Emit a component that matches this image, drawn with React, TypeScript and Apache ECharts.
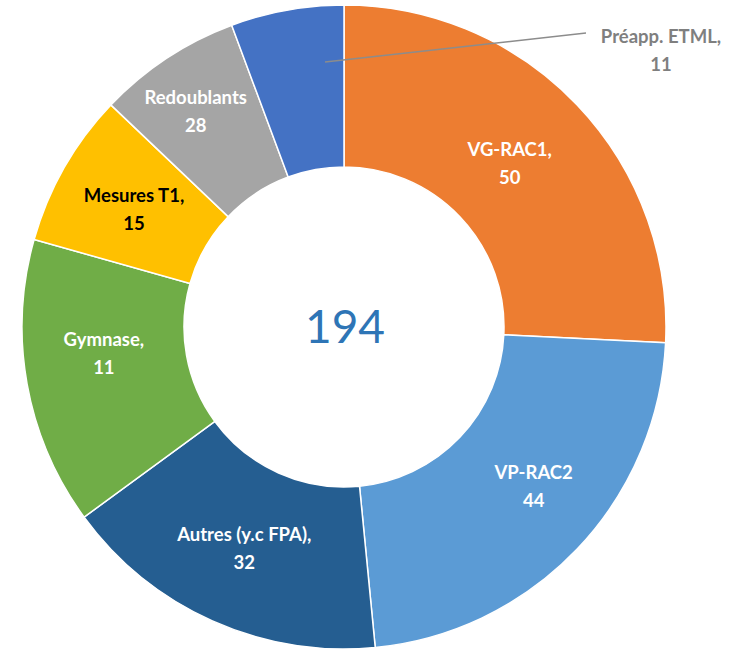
import React, { useEffect, useRef } from "react";
import * as echarts from "echarts";

const categories = ["VG-RAC1", "VP-RAC2", "Autres (y.c FPA)", "Gymnase", "Mesures T1", "Redoublants", "Préapp. ETML"];
const sliceValues = [50, 44, 32, 28, 15, 14, 11];
const labelFirstLines = ["VG-RAC1,", "VP-RAC2", "Autres (y.c FPA),", "Gymnase,", "Mesures T1,", "Redoublants", "Préapp. ETML,"];
const labelValues = [50, 44, 32, 11, 15, 28, 11];
const totalLabel = "194";
const colors = ["#ED7D31", "#5B9BD5", "#255E91", "#70AD47", "#FFC000", "#A5A5A5", "#4472C4"];
const labelColors = ["#FFFFFF", "#FFFFFF", "#FFFFFF", "#FFFFFF", "#000000", "#FFFFFF", "#7F7F7F"];
const labelShift: [number, number][] = [[-11, 4], [13, -9], [0, -2], [0, -17], [2, 3], [-14, -12], [0, 0]];

export default function App() {
  const ref = useRef<HTMLDivElement>(null);
  useEffect(() => {
    document.body.style.margin = "0";
    if (!ref.current) return;
    const chart = echarts.init(ref.current, undefined, { renderer: "svg" });
    const cx = 344;
    const cy = 327;
    const data = categories.map((name, i) => {
      const outside = i === categories.length - 1;
      return {
        name,
        value: sliceValues[i],
        itemStyle: { color: colors[i] },
        label: {
          show: true,
          position: outside ? "outside" : "inside",
          color: labelColors[i],
          formatter: () => labelFirstLines[i] + "\n" + labelValues[i],
        },
        labelLine: { show: false },
      };
    });
    chart.setOption({
      animation: false,
      backgroundColor: "#FFFFFF",
      graphic: [
        {
          type: "text",
          x: cx + 1,
          y: cy - 2,
          style: {
            text: totalLabel,
            fill: "#2E75B6",
            font: "46px Lato",
            textAlign: "center",
            textVerticalAlign: "middle",
          },
        },
        {
          type: "line",
          z: 100,
          shape: { x1: cx - 19, y1: cy - 265, x2: cx + 242, y2: cy - 294 },
          style: { stroke: "#8C8C8C", lineWidth: 1.5 },
        },
      ],
      series: [
        {
          type: "pie",
          center: [cx, cy],
          radius: [160, 322],
          startAngle: 90,
          clockwise: true,
          avoidLabelOverlap: false,
          itemStyle: { borderColor: "#FFFFFF", borderWidth: 1.5 },
          label: {
            fontFamily: "Lato",
            fontWeight: "bold",
            fontSize: 18.5,
            lineHeight: 28,
            align: "center",
          },
          labelLayout: (params: any) => {
            const i = params.dataIndex;
            if (i === categories.length - 1) {
              return { x: 661, y: 50, align: "center", verticalAlign: "middle" };
            }
            const s = labelShift[i];
            return { dx: s[0], dy: s[1] };
          },
          data,
        },
      ],
    });
    return () => chart.dispose();
  }, []);
  return <div ref={ref} style={{ width: 735, height: 649 }} />;
}
